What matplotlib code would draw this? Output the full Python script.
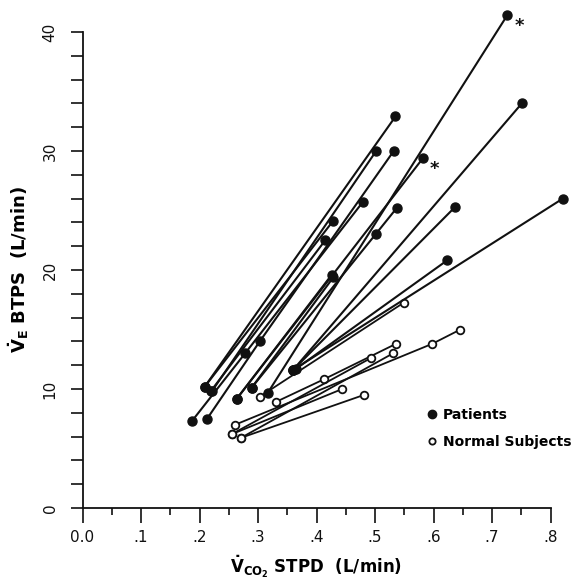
import matplotlib
matplotlib.use("Agg")
import matplotlib.pyplot as plt
from matplotlib.lines import Line2D
from matplotlib.ticker import MultipleLocator


# Patients: each inner list is one subject (rest -> exercise levels)
patient_vco2 = [
    [0.317, 0.726],
    [0.360, 0.751],
    [0.360, 0.821],
    [0.365, 0.623],
    [0.360, 0.637],
    [0.264, 0.582],
    [0.209, 0.535],
    [0.221, 0.502],
    [0.213, 0.303, 0.532],
    [0.187, 0.278, 0.479],
    [0.289, 0.501, 0.537],
    [0.209, 0.428],
    [0.219, 0.415],
    [0.264, 0.426],
    [0.289, 0.429],
]
patient_ve = [
    [9.7, 41.4],
    [11.6, 34.0],
    [11.6, 26.0],
    [11.7, 20.8],
    [11.6, 25.3],
    [9.2, 29.4],
    [10.2, 32.9],
    [9.8, 30.0],
    [7.5, 14.0, 30.0],
    [7.3, 13.0, 25.7],
    [10.1, 23.0, 25.2],
    [10.2, 24.1],
    [9.8, 22.5],
    [9.2, 19.6],
    [10.1, 19.4],
]
# subjects marked with an asterisk
starred = [0, 5]

# Normal subjects
normal_vco2 = [
    [0.261, 0.598, 0.646],
    [0.303, 0.549],
    [0.330, 0.412, 0.536],
    [0.255, 0.493],
    [0.271, 0.531],
    [0.271, 0.481],
    [0.255, 0.444],
]
normal_ve = [
    [7.0, 13.8, 15.0],
    [9.35, 17.25],
    [8.9, 10.8, 13.8],
    [6.2, 12.6],
    [5.9, 13.0],
    [5.9, 9.5],
    [6.2, 10.0],
]

x_ticks = [0.0, 0.1, 0.2, 0.3, 0.4, 0.5, 0.6, 0.7, 0.8]
x_tick_labels = ["0.0", ".1", ".2", ".3", ".4", ".5", ".6", ".7", ".8"]
y_ticks = [0, 10, 20, 30, 40]

ink = "#111111"

fig = plt.figure(figsize=(5.82, 5.80), dpi=100)
ax = fig.add_axes([82.5 / 582, 1 - 508 / 580, 468 / 582, 476 / 580])

# Normal subjects (open circles)
for xs, ys in zip(normal_vco2, normal_ve):
    ax.plot(xs, ys, "-", color=ink, linewidth=1.3, marker="o", markersize=5.5,
            markerfacecolor="white", markeredgecolor=ink, markeredgewidth=1.3,
            zorder=2, clip_on=False)

# Patients (filled circles)
for i, (xs, ys) in enumerate(zip(patient_vco2, patient_ve)):
    ax.plot(xs, ys, "-", color=ink, linewidth=1.5, marker="o", markersize=6.5,
            markerfacecolor=ink, markeredgecolor=ink, zorder=3, clip_on=False)
    if i in starred:
        ax.annotate("*", xy=(xs[-1], ys[-1]), xytext=(5, -8), textcoords="offset points",
                    fontsize=13, fontweight="bold", color=ink, va="center", ha="left",
                    annotation_clip=False)

ax.set_xlim(0, 0.8)
ax.set_ylim(0, 40)

for side in ["top", "right"]:
    ax.spines[side].set_visible(False)
for side in ["left", "bottom"]:
    ax.spines[side].set_linewidth(1.3)
    ax.spines[side].set_color(ink)

ax.set_xticks(x_ticks)
ax.set_xticklabels(x_tick_labels, fontsize=11)
ax.xaxis.set_minor_locator(MultipleLocator(0.05))
ax.set_yticks(y_ticks)
ax.set_yticklabels([str(v) for v in y_ticks], fontsize=11, rotation=90, va="center")
ax.yaxis.set_minor_locator(MultipleLocator(2))

ax.tick_params(axis="x", which="major", direction="out", length=11, width=1.2, pad=5, colors=ink)
ax.tick_params(axis="x", which="minor", direction="out", length=5, width=1.2, colors=ink)
ax.tick_params(axis="y", which="both", direction="out", length=9, width=1.2, pad=9, colors=ink)

ax.set_xlabel(r"$\mathbf{\dot{V}_{CO_2}}$ STPD  (L/min)", fontsize=12, fontweight="bold", labelpad=6)
ax.set_ylabel(r"$\mathbf{\dot{V}_E}$ BTPS  (L/min)", fontsize=13, fontweight="bold", labelpad=8)

# Legend
handles = [
    Line2D([], [], linestyle="none", marker="o", markersize=6, markerfacecolor=ink, markeredgecolor=ink),
    Line2D([], [], linestyle="none", marker="o", markersize=4.5, markerfacecolor="white",
           markeredgecolor=ink, markeredgewidth=1.3),
]
ax.legend(handles, ["Patients", "Normal Subjects"], loc="upper left", bbox_to_anchor=(0.735, 0.21),
          frameon=False, handlelength=0.8, handletextpad=0.4, labelspacing=0.9,
          borderaxespad=0, borderpad=0, prop={"size": 10, "weight": "bold"})

fig.savefig("out.png", dpi=100)
